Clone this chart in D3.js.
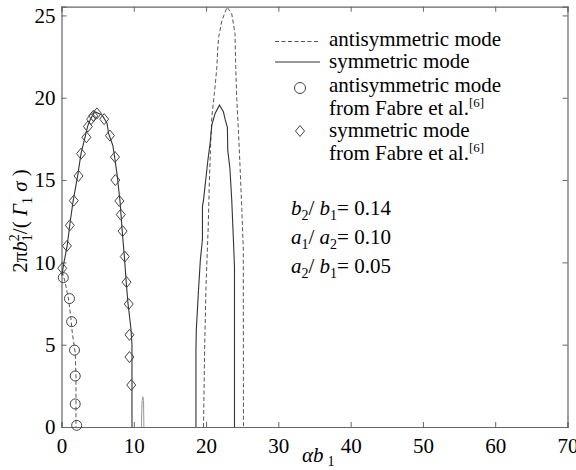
<!DOCTYPE html>
<html><head><meta charset="utf-8">
<script src="https://cdn.jsdelivr.net/npm/d3@7"></script>
</head><body style="margin:0">
<script>
const xTicks = [0,10,20,30,40,50,60,70];
const yTicks = [0,5,10,15,20,25];
const antiBranch1 = [[0.1,9.45],[0.5,8.8],[1.0,7.7],[1.3,6.6],[1.5,5.7],[1.9,4.5],[2.0,3.1],[2.0,1.5],[2.0,0]];
const antiBranch2 = [[19.65,0],[19.8,4.7],[20.0,8.7],[20.3,12.2],[20.45,14.8],[20.6,16.8],[20.8,18.85],[21.25,20.7],[21.5,21.9],[21.6,22.9],[21.75,23.7],[22.2,24.7],[22.9,25.5],[23.55,25.1],[24.0,23.9],[24.1,21.9],[24.25,19.9],[24.5,17.8],[24.7,15.8],[24.95,13.2],[25.15,10.8],[25.17,0]];
const symBranch1 = [[0.05,9.2],[0.3,9.9],[0.8,11.05],[1.15,12.3],[1.6,13.7],[2.25,15.3],[2.7,16.6],[3.2,17.5],[3.6,18.25],[4.0,18.7],[4.6,19.15],[5.6,18.95],[6.3,18.45],[6.5,17.85],[7.1,17.1],[7.35,16.4],[7.7,15.3],[8.1,13.7],[8.4,11.9],[8.7,10.35],[8.95,8.8],[9.2,7.5],[9.6,6.0],[9.75,5.0],[9.75,0]];
const symSpike = [[11.05,0],[11.15,1.6],[11.25,1.84],[11.35,1.6],[11.4,0]];
const symBranch2 = [[18.6,0],[18.6,4.7],[18.65,5.9],[18.95,8.3],[19.2,10.1],[19.5,11.4],[19.5,13.4],[19.65,13.8],[19.9,14.8],[20.25,16.2],[20.55,17.2],[20.8,18.35],[21.25,19.05],[21.85,19.55],[22.4,19.15],[22.65,18.65],[22.95,18.2],[23.0,16.8],[23.3,15.7],[23.55,13.8],[23.8,11.2],[23.93,9.7],[23.93,0]];
const fabreAnti = [[0.25,9.07],[1.1,7.8],[1.4,6.4],[1.8,4.67],[1.9,3.1],[1.9,1.4],[2.1,0.1]];
const fabreSym = [[0.1,9.64],[0.75,11.0],[1.15,12.25],[1.7,13.75],[2.35,15.25],[2.7,16.6],[3.45,17.6],[3.65,18.25],[4.1,18.7],[4.4,18.9],[4.9,19.05],[5.9,18.7],[6.7,17.7],[7.4,16.4],[7.45,15.0],[8.0,13.73],[8.2,12.9],[8.45,11.9],[8.75,10.35],[9.0,8.8],[9.3,7.47],[9.4,5.6],[9.4,4.25],[9.65,2.55]];

const FONT='"Times New Roman"';
const W=576,H=470;
const svg=d3.select("body").append("svg").attr("width",W).attr("height",H).style("display","block");
const x=d3.scaleLinear().domain([0,70]).range([61.5,567.5]);
const y=d3.scaleLinear().domain([0,25.53]).range([427,6.7]);
const frame="#666";

const gB=svg.append("g").attr("transform","translate(0,427)").call(d3.axisBottom(x).tickValues(xTicks).tickSize(-5).tickPadding(11).tickFormat(d3.format("d")));
const gT=svg.append("g").attr("transform","translate(0,6.7)").call(d3.axisTop(x).tickValues(xTicks).tickSize(-5).tickFormat(""));
const gL=svg.append("g").attr("transform","translate(61.5,0)").call(d3.axisLeft(y).tickValues(yTicks).tickSize(-5).tickPadding(6).tickFormat(d3.format("d")));
const gR=svg.append("g").attr("transform","translate(567.5,0)").call(d3.axisRight(y).tickValues(yTicks).tickSize(-5).tickFormat(""));
[gB,gT,gL,gR].forEach(g=>{g.attr("font-family",null).attr("font-size",null);g.select(".domain").attr("stroke",frame).attr("stroke-width",1.2);g.selectAll(".tick line").attr("stroke",frame);g.selectAll("text").attr("font-size",21).style("font-family",FONT).attr("fill","#000");});
gB.selectAll(".tick text").attr("dy","0.71em");

const line=d3.line().x(d=>x(d[0])).y(d=>y(d[1]));
const plot=svg.append("g");
[antiBranch1,antiBranch2].forEach(s=>plot.append("path").attr("d",line(s)).attr("fill","none").attr("stroke","#555").attr("stroke-width",1).attr("stroke-dasharray","4,2.5"));
[symBranch1,symBranch2].forEach(s=>plot.append("path").attr("d",line(s)).attr("fill","none").attr("stroke","#333").attr("stroke-width",1.1));
plot.append("path").attr("d",line(symSpike)).attr("fill","none").attr("stroke","#999").attr("stroke-width",1);

plot.selectAll(".c").data(fabreAnti).enter().append("circle").attr("cx",d=>x(d[0])).attr("cy",d=>y(d[1])).attr("r",5).attr("fill","none").attr("stroke","#444").attr("stroke-width",1);
const dia=(cx,cy,w,h)=>`M${cx},${cy-h}L${cx+w},${cy}L${cx},${cy+h}L${cx-w},${cy}Z`;
plot.selectAll(".d").data(fabreSym).enter().append("path").attr("d",d=>dia(x(d[0]),y(d[1]),4.5,5.5)).attr("fill","none").attr("stroke","#444").attr("stroke-width",1);

const txt=(sel,size)=>sel.style("font-family",FONT).attr("font-size",size);
const lg=svg.append("g");
lg.append("line").attr("x1",275).attr("x2",320).attr("y1",41.5).attr("y2",41.5).attr("stroke","#555").attr("stroke-dasharray","4,2.5");
lg.append("line").attr("x1",275).attr("x2",320).attr("y1",62).attr("y2",62).attr("stroke","#333");
lg.append("circle").attr("cx",300).attr("cy",88).attr("r",5.5).attr("fill","none").attr("stroke","#444");
lg.append("path").attr("d",dia(300,131,4.5,5.5)).attr("fill","none").attr("stroke","#444");
const lt=(t,yy)=>txt(lg.append("text").attr("x",329).attr("y",yy),21).text(t);
lt("antisymmetric mode",46);
lt("symmetric mode",68);
lt("antisymmetric mode",92);
const f1=lt("from Fabre et al.",115); f1.append("tspan").attr("font-size",13).attr("dy",-8).text("[6]");
lt("symmetric mode",137);
const f2=lt("from Fabre et al.",160); f2.append("tspan").attr("font-size",13).attr("dy",-8).text("[6]");

const ann=(yy,a,s1,b,s2,val)=>{const t=txt(svg.append("text").attr("x",291).attr("y",yy),21);
 t.append("tspan").attr("font-style","italic").text(a);
 t.append("tspan").attr("font-size",14).attr("dy",5).text(s1);
 t.append("tspan").attr("dy",-5).text("/ ");
 t.append("tspan").attr("font-style","italic").text(b);
 t.append("tspan").attr("font-size",14).attr("dy",5).text(s2);
 t.append("tspan").attr("dy",-5).text("= "+val);};
ann(215,"b","2","b","1","0.14");
ann(244,"a","1","a","2","0.10");
ann(273,"a","2","b","1","0.05");

const xt=txt(svg.append("text").attr("x",302).attr("y",462),21);
xt.append("tspan").attr("font-style","italic").text("αb");
xt.append("tspan").attr("font-size",14).attr("dy",4).attr("dx",4).text("1");

const yt=txt(svg.append("text").attr("transform","translate(27,221) rotate(-90)").attr("text-anchor","middle"),21);
yt.append("tspan").text("2π");
yt.append("tspan").attr("font-style","italic").text("b");
yt.append("tspan").attr("font-size",14).attr("dy",-8).text("2");
yt.append("tspan").attr("font-size",14).attr("dx",-7).attr("dy",13).text("1");
yt.append("tspan").attr("dy",-5).text("/( ");
yt.append("tspan").attr("font-style","italic").text("Γ");
yt.append("tspan").attr("font-size",14).attr("dy",5).text("1");
yt.append("tspan").attr("dy",-5).attr("font-style","italic").text(" σ");
yt.append("tspan").text(" )");
</script>
</body></html>
